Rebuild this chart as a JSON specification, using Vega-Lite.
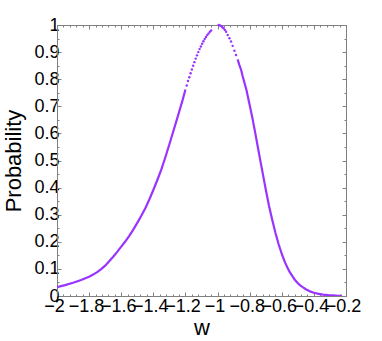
{
  "$schema": "https://vega.github.io/schema/vega-lite/v6.json",
  "width": 289,
  "height": 271,
  "autosize": {"type": "none"},
  "padding": {"left": 57, "top": 25, "right": 36, "bottom": 45},
  "background": "white",
  "config": {
    "view": {"stroke": "#808080", "strokeWidth": 1},
    "font": "Liberation Sans",
    "axis": {
      "grid": false,
      "domainColor": "#808080",
      "tickColor": "#808080",
      "labelColor": "black",
      "titleColor": "black",
      "labelFont": "Liberation Sans",
      "titleFont": "Liberation Sans",
      "labelFontSize": 18,
      "titleFontSize": 22,
      "titleFontWeight": "normal",
      "labelOverlap": false,
      "labelFlush": false,
      "labelBound": false
    }
  },
  "datasets": {
    "curve": [
      {"seg": "L", "w": -2.0, "p": 0.033},
      {"seg": "L", "w": -1.95, "p": 0.040},
      {"seg": "L", "w": -1.9, "p": 0.049},
      {"seg": "L", "w": -1.85, "p": 0.059},
      {"seg": "L", "w": -1.8, "p": 0.071},
      {"seg": "L", "w": -1.775, "p": 0.079},
      {"seg": "L", "w": -1.75, "p": 0.088},
      {"seg": "L", "w": -1.725, "p": 0.099},
      {"seg": "L", "w": -1.7, "p": 0.112},
      {"seg": "L", "w": -1.675, "p": 0.128},
      {"seg": "L", "w": -1.65, "p": 0.145},
      {"seg": "L", "w": -1.625, "p": 0.163},
      {"seg": "L", "w": -1.6, "p": 0.182},
      {"seg": "L", "w": -1.575, "p": 0.201},
      {"seg": "L", "w": -1.55, "p": 0.222},
      {"seg": "L", "w": -1.525, "p": 0.245},
      {"seg": "L", "w": -1.5, "p": 0.270},
      {"seg": "L", "w": -1.475, "p": 0.296},
      {"seg": "L", "w": -1.45, "p": 0.324},
      {"seg": "L", "w": -1.425, "p": 0.356},
      {"seg": "L", "w": -1.4, "p": 0.391},
      {"seg": "L", "w": -1.375, "p": 0.428},
      {"seg": "L", "w": -1.35, "p": 0.467},
      {"seg": "L", "w": -1.325, "p": 0.512},
      {"seg": "L", "w": -1.3, "p": 0.560},
      {"seg": "L", "w": -1.275, "p": 0.609},
      {"seg": "L", "w": -1.25, "p": 0.658},
      {"seg": "L", "w": -1.235, "p": 0.688},
      {"seg": "L", "w": -1.22, "p": 0.718},
      {"seg": "L", "w": -1.2, "p": 0.762},
      {"seg": "R", "w": -0.875, "p": 0.873},
      {"seg": "R", "w": -0.864, "p": 0.852},
      {"seg": "R", "w": -0.853, "p": 0.834},
      {"seg": "R", "w": -0.844, "p": 0.812},
      {"seg": "R", "w": -0.832, "p": 0.786},
      {"seg": "R", "w": -0.82, "p": 0.760},
      {"seg": "R", "w": -0.8, "p": 0.705},
      {"seg": "R", "w": -0.78, "p": 0.648},
      {"seg": "R", "w": -0.76, "p": 0.585},
      {"seg": "R", "w": -0.74, "p": 0.520},
      {"seg": "R", "w": -0.72, "p": 0.457},
      {"seg": "R", "w": -0.7, "p": 0.394},
      {"seg": "R", "w": -0.68, "p": 0.334},
      {"seg": "R", "w": -0.66, "p": 0.282},
      {"seg": "R", "w": -0.64, "p": 0.234},
      {"seg": "R", "w": -0.62, "p": 0.192},
      {"seg": "R", "w": -0.6, "p": 0.155},
      {"seg": "R", "w": -0.58, "p": 0.124},
      {"seg": "R", "w": -0.565, "p": 0.105},
      {"seg": "R", "w": -0.55, "p": 0.088},
      {"seg": "R", "w": -0.535, "p": 0.074},
      {"seg": "R", "w": -0.52, "p": 0.061},
      {"seg": "R", "w": -0.5, "p": 0.047},
      {"seg": "R", "w": -0.485, "p": 0.039},
      {"seg": "R", "w": -0.47, "p": 0.033},
      {"seg": "R", "w": -0.45, "p": 0.025},
      {"seg": "R", "w": -0.42, "p": 0.016},
      {"seg": "R", "w": -0.4, "p": 0.012},
      {"seg": "R", "w": -0.37, "p": 0.008},
      {"seg": "R", "w": -0.345, "p": 0.005},
      {"seg": "R", "w": -0.31, "p": 0.003},
      {"seg": "R", "w": -0.28, "p": 0.002},
      {"seg": "R", "w": -0.25, "p": 0.001},
      {"seg": "R", "w": -0.225, "p": 0.001}
    ],
    "dots": [
      {"w": -1.192, "p": 0.777},
      {"w": -1.184, "p": 0.793},
      {"w": -1.176, "p": 0.807},
      {"w": -1.168, "p": 0.822},
      {"w": -1.16, "p": 0.836},
      {"w": -1.152, "p": 0.850},
      {"w": -1.144, "p": 0.863},
      {"w": -1.136, "p": 0.876},
      {"w": -1.128, "p": 0.888},
      {"w": -1.12, "p": 0.900},
      {"w": -1.112, "p": 0.911},
      {"w": -1.104, "p": 0.921},
      {"w": -1.096, "p": 0.931},
      {"w": -1.088, "p": 0.940},
      {"w": -1.08, "p": 0.948},
      {"w": -1.072, "p": 0.956},
      {"w": -1.064, "p": 0.963},
      {"w": -1.056, "p": 0.969},
      {"w": -1.048, "p": 0.975},
      {"w": -1.04, "p": 0.980},
      {"w": -0.993, "p": 1.0},
      {"w": -0.985, "p": 0.998},
      {"w": -0.978, "p": 0.996},
      {"w": -0.970, "p": 0.992},
      {"w": -0.963, "p": 0.988},
      {"w": -0.955, "p": 0.982},
      {"w": -0.947, "p": 0.975},
      {"w": -0.937, "p": 0.963},
      {"w": -0.926, "p": 0.951},
      {"w": -0.916, "p": 0.939},
      {"w": -0.906, "p": 0.923},
      {"w": -0.895, "p": 0.905},
      {"w": -0.885, "p": 0.889}
    ]
  },
  "layer": [
    {
      "data": {"name": "curve"},
      "mark": {"type": "line", "color": "#9933ff", "strokeWidth": 2.2, "clip": true},
      "encoding": {
        "x": {
          "field": "w", "type": "quantitative",
          "scale": {"domain": [-2, -0.2], "nice": false, "zero": false},
          "axis": {
            "orient": "bottom",
            "values": [-2, -1.96, -1.92, -1.88, -1.84, -1.8, -1.76, -1.72, -1.68, -1.64, -1.6, -1.56, -1.52, -1.48, -1.44, -1.4, -1.36, -1.32, -1.28, -1.24, -1.2, -1.16, -1.12, -1.08, -1.04, -1, -0.96, -0.92, -0.88, -0.84, -0.8, -0.76, -0.72, -0.68, -0.64, -0.6, -0.56, -0.52, -0.48, -0.44, -0.4, -0.36, -0.32, -0.28, -0.24, -0.2],
            "tickSize": {"condition": {"test": "abs(datum.value*5 - round(datum.value*5)) < 1e-6", "value": -4}, "value": -2},
            "labelExpr": "abs(datum.value*5 - round(datum.value*5)) < 1e-6 ? format(datum.value, '~g') : ''",
            "labelPadding": 5,
            "labelOffset": -3,
            "title": "w",
            "titleY": 38,
            "titleBaseline": "alphabetic"
          }
        },
        "y": {
          "field": "p", "type": "quantitative",
          "scale": {"domain": [0, 1], "nice": false},
          "axis": {
            "orient": "left",
            "values": [0, 0.05, 0.1, 0.15, 0.2, 0.25, 0.3, 0.35, 0.4, 0.45, 0.5, 0.55, 0.6, 0.65, 0.7, 0.75, 0.8, 0.85, 0.9, 0.95, 1],
            "tickSize": {"condition": {"test": "abs(datum.value*10 - round(datum.value*10)) < 1e-6", "value": -4}, "value": -2},
            "labelExpr": "abs(datum.value*10 - round(datum.value*10)) < 1e-6 ? format(datum.value, '~g') : ''",
            "labelPadding": 2,
            "title": "Probability",
            "titleX": -37,
            "titleY": 135.5,
            "titleAngle": -90,
            "titleAlign": "center",
            "titleBaseline": "alphabetic"
          }
        },
        "detail": {"field": "seg"}
      }
    },
    {
      "data": {"name": "dots"},
      "mark": {"type": "circle", "color": "#9933ff", "size": 6, "opacity": 1},
      "encoding": {
        "x": {
          "field": "w", "type": "quantitative",
          "scale": {"domain": [-2, -0.2], "nice": false, "zero": false},
          "axis": {
            "orient": "top",
            "values": [-2, -1.96, -1.92, -1.88, -1.84, -1.8, -1.76, -1.72, -1.68, -1.64, -1.6, -1.56, -1.52, -1.48, -1.44, -1.4, -1.36, -1.32, -1.28, -1.24, -1.2, -1.16, -1.12, -1.08, -1.04, -1, -0.96, -0.92, -0.88, -0.84, -0.8, -0.76, -0.72, -0.68, -0.64, -0.6, -0.56, -0.52, -0.48, -0.44, -0.4, -0.36, -0.32, -0.28, -0.24, -0.2],
            "tickSize": {"condition": {"test": "abs(datum.value*5 - round(datum.value*5)) < 1e-6", "value": -4}, "value": -2},
            "labels": false,
            "title": null
          }
        },
        "y": {
          "field": "p", "type": "quantitative",
          "scale": {"domain": [0, 1], "nice": false},
          "axis": {
            "orient": "right",
            "values": [0, 0.05, 0.1, 0.15, 0.2, 0.25, 0.3, 0.35, 0.4, 0.45, 0.5, 0.55, 0.6, 0.65, 0.7, 0.75, 0.8, 0.85, 0.9, 0.95, 1],
            "tickSize": {"condition": {"test": "abs(datum.value*10 - round(datum.value*10)) < 1e-6", "value": -4}, "value": -2},
            "labels": false,
            "title": null
          }
        }
      }
    }
  ],
  "resolve": {"axis": {"x": "independent", "y": "independent"}}
}
